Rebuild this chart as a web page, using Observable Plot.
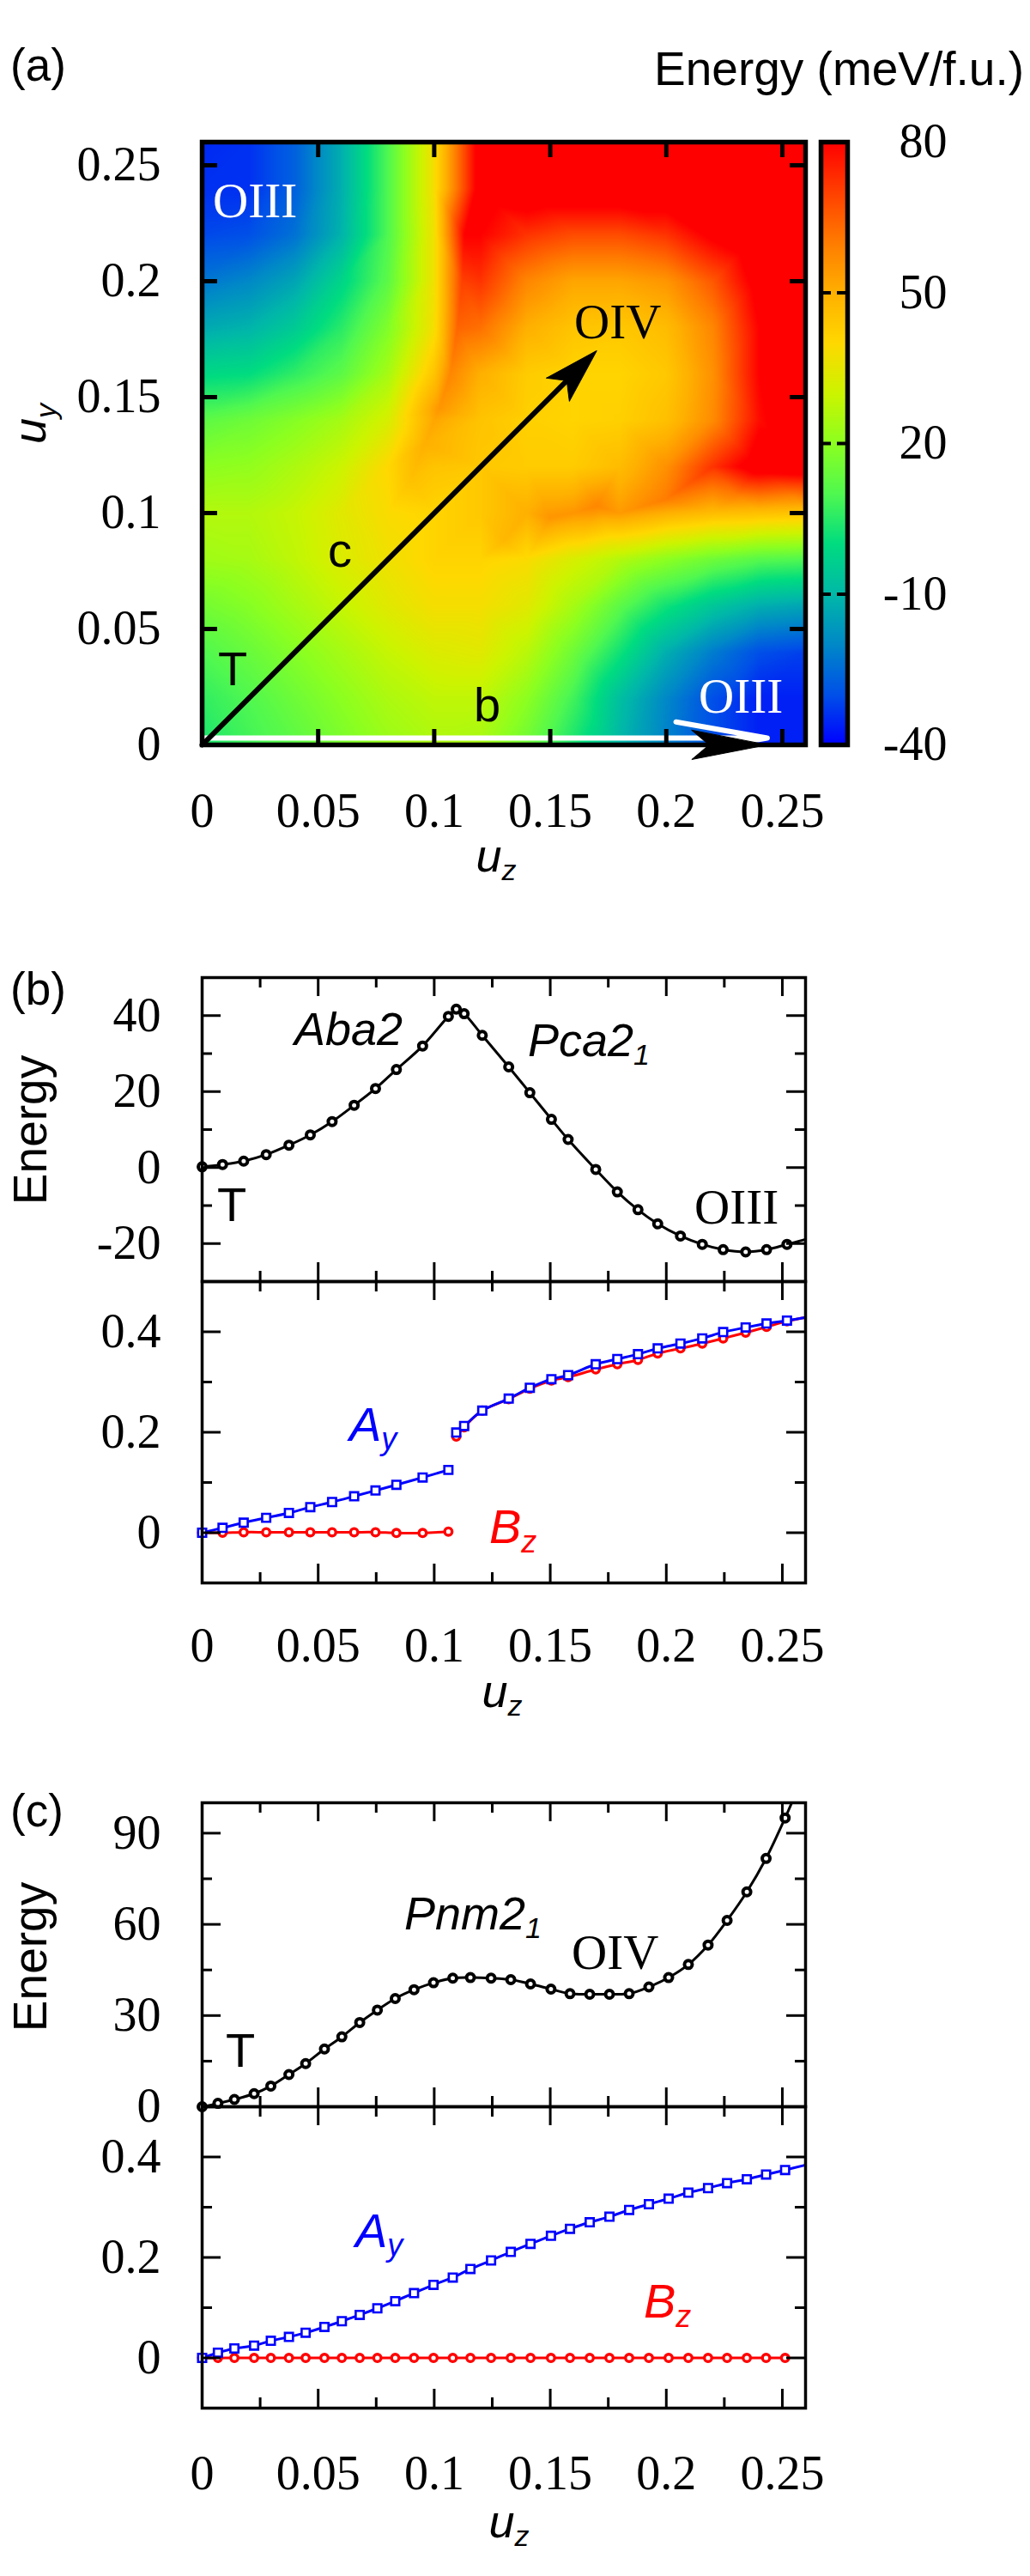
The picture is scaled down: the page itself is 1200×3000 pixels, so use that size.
<!DOCTYPE html>
<html><head><meta charset="utf-8">
<script src="https://cdn.jsdelivr.net/npm/d3@7"></script>
<script src="https://cdn.jsdelivr.net/npm/@observablehq/plot@0.6"></script>
<style>
body{margin:0;background:#fff;}
#wrap{position:relative;width:1200px;height:3000px;background:#fff;overflow:hidden;}
svg.serifplot text{font-family:"Liberation Serif","Times New Roman",serif !important;font-size:56px !important;}
</style></head><body><div id="wrap"></div>
<script>
// ---------------- DATA ----------------
// (a) energy map, grid (meV/f.u.)
const uzGrid = [0, 0.02, 0.04, 0.06, 0.08, 0.10, 0.12, 0.14, 0.16, 0.18, 0.20, 0.22, 0.24, 0.26];
const uyGrid = [0, 0.02, 0.04, 0.06, 0.08, 0.10, 0.12, 0.14, 0.16, 0.18, 0.20, 0.22, 0.24, 0.26];
const heatE = [
  [3, 8, 12, 17, 22, 25, 24, 15, 3, -10, -21, -30, -36, -36],
  [6, 10, 15, 20, 25, 28, 28, 20, 8, -8, -20, -30, -36, -36],
  [10, 14, 19, 24, 29, 33, 34, 27, 15, 2, -12, -22, -30, -32],
  [16, 19, 24, 29, 34, 38, 38, 34, 24, 12, 2, -6, -12, -14],
  [23, 24, 28, 33, 37, 41, 41, 39, 32, 26, 20, 15, 11, 10],
  [26, 26, 29, 34, 39, 41, 44, 50, 55, 54, 50, 47, 46, 45],
  [20, 21, 25, 30, 40, 45, 44, 43, 43, 47, 56, 72, 86, 88],
  [12, 15, 19, 24, 32, 52, 45, 42, 41, 42, 46, 57, 78, 90],
  [-1, 0, 6, 12, 24, 45, 50, 43, 41, 41, 44, 56, 80, 90],
  [-13, -11, -5, 5, 18, 38, 62, 50, 45, 44, 47, 58, 80, 90],
  [-23, -20, -14, -2, 12, 37, 72, 58, 52, 52, 55, 66, 84, 90],
  [-31, -30, -24, -11, 10, 37, 80, 72, 68, 68, 72, 82, 90, 90],
  [-34, -34, -27, -12, 10, 38, 85, 88, 88, 88, 88, 90, 90, 90],
  [-35, -34, -27, -12, 10, 38, 85, 90, 90, 90, 90, 90, 90, 90]
];
// extra samples along the two orange ridges of the map
const ridgeUz = [0.113, 0.112, 0.110, 0.107, 0.102, 0.096, 0.090, 0.255, 0.23, 0.20, 0.17, 0.15, 0.13];
const ridgeUy = [0.22, 0.20, 0.18, 0.16, 0.145, 0.13, 0.115, 0.107, 0.108, 0.106, 0.103, 0.098, 0.088];
const ridgeE  = [80, 70, 64, 58, 55, 50, 46, 58, 60, 60, 58, 55, 48];

const cbStops  = [-40, -30, -20, -10, 0, 10, 20, 30, 40, 50, 60, 70, 80];
const cbColors = ["#0000ff", "#0050e8", "#0088c8", "#00b8a8", "#00dc80", "#50f850", "#8cff20",
                  "#ccf400", "#ffd800", "#ffb000", "#ff7c00", "#ff4000", "#ff0000"];
const cbLabels = [80, 50, 20, -10, -40];
const cbInner  = [50, 20, -10];

const pathC = [{x1: 0, y1: 0, x2: 0.17, y2: 0.17}];
const pathB = [{x1: 0, y1: 0, x2: 0.2435, y2: 0}];

const aTicks  = [0.05, 0.1, 0.15, 0.2, 0.25];
const aLabels = [0, 0.05, 0.1, 0.15, 0.2, 0.25];

// (b) path b
const bUz = [0, 0.0088, 0.0179, 0.0276, 0.0374, 0.0466, 0.056, 0.0655, 0.0747, 0.0837, 0.095, 0.1061,
             0.1095, 0.1129, 0.1207, 0.1321, 0.1412, 0.1505, 0.1577, 0.1696, 0.1789, 0.1878, 0.1963,
             0.2061, 0.2155, 0.2245, 0.2342, 0.2432, 0.2520];
const bEnergy = [0.2, 0.8, 1.7, 3.4, 5.9, 8.6, 12.1, 16.4, 20.8, 25.8, 32.0, 39.8,
                 41.7, 40.5, 34.8, 26.5, 19.7, 12.7, 7.4, -0.5, -6.4, -11.1, -14.8,
                 -18.0, -20.2, -21.6, -22.2, -21.6, -20.2];
const bAy = [0, 0.0097, 0.020, 0.0297, 0.0394, 0.0509, 0.0611, 0.0726, 0.084, 0.0954, 0.110, 0.125,
             0.1994, 0.2126, 0.243, 0.267, 0.2886, 0.3057, 0.3137, 0.3354, 0.3457, 0.3554, 0.3669,
             0.3766, 0.3869, 0.3994, 0.4086, 0.4166, 0.4223];
const bBz = [0, 0, 0.001, 0.001, 0.001, 0.001, 0.001, 0.001, 0.001, -0.0006, -0.0006, 0.0023,
             0.1914, 0.21, 0.243, 0.266, 0.2869, 0.303, 0.3097, 0.3251, 0.3354, 0.344, 0.357,
             0.3669, 0.3766, 0.3869, 0.3983, 0.4097, 0.4211];
const bBranch = [0, 0, 0, 0, 0, 0, 0, 0, 0, 0, 0, 0, 1, 1, 1, 1, 1, 1, 1, 1, 1, 1, 1, 1, 1, 1, 1, 1, 1];
const bEnergyTail = {uz: 0.26, v: -18.9};
const bModeTail = {uz: 0.26, v: 0.4286};

// (c) path c
const cUz = [0, 0.0068, 0.0139, 0.0224, 0.0296, 0.0374, 0.0446, 0.0527, 0.0602, 0.0679, 0.0755,
             0.0832, 0.0913, 0.0997, 0.108, 0.1156, 0.1245, 0.133, 0.1415, 0.1503, 0.1585, 0.167,
             0.1755, 0.184, 0.1925, 0.201, 0.2095, 0.218, 0.2262, 0.2347, 0.243, 0.2512];
const cEnergy = [0, 1.1, 2.4, 4.3, 6.8, 10.6, 14.2, 19.0, 23.0, 27.7, 31.8, 35.6, 38.5, 40.8, 42.3,
                 42.5, 42.3, 41.8, 40.4, 38.7, 37.2, 37.0, 37.0, 37.2, 39.4, 42.5, 46.8, 53.2, 61.3,
                 70.7, 81.7, 95.0];
const cAy = [0, 0.0103, 0.0188, 0.0245, 0.034, 0.0417, 0.0502, 0.0616, 0.0731, 0.0856, 0.0987, 0.113,
             0.129, 0.1455, 0.160, 0.177, 0.194, 0.211, 0.227, 0.243, 0.257, 0.270, 0.281, 0.2945,
             0.306, 0.317, 0.329, 0.338, 0.348, 0.3556, 0.365, 0.374];
const cBz = [0, 0, 0, 0, 0, 0, 0, 0, 0, 0, 0, 0, 0, 0, 0, 0, 0, 0, 0, 0, 0, 0, 0, 0, 0, 0, 0, 0, 0, 0, 0, 0];
const cEnergyTail = {uz: 0.2545, v: 100.8};
const cAyTail = {uz: 0.26, v: 0.384};

const xMajor = [0.05, 0.1, 0.15, 0.2, 0.25];
const xMinor = [0.025, 0.075, 0.125, 0.175, 0.225];
const xLabels = [0, 0.05, 0.1, 0.15, 0.2, 0.25];

// ---------------- LAYOUT ----------------
const wrap = document.getElementById("wrap");
const SANS = "'Liberation Sans', Arial, sans-serif";
const SERIF = "'Liberation Serif', 'Times New Roman', serif";
const plotStyle = {fontFamily: SERIF, fontSize: "56px", background: "transparent", overflow: "visible", color: "black"};
const L = 235, R = 938, FW = R - L;
const colorOpts = {type: "linear", domain: cbStops, range: cbColors, interpolate: "rgb", clamp: true};
const axisText = {fontFamily: SERIF, fontSize: 56, label: null};

function put(node, top, left) {
  node.classList.add("serifplot");
  node.style.position = "absolute";
  node.style.top = top + "px";
  node.style.left = left + "px";
  node.style.maxWidth = "none";
  d3.select(node).selectAll("text").attr("font-family", SERIF).style("font-family", SERIF, "important");
  wrap.appendChild(node);
}
function boxTicks(xs, ys, fw, fh, len, sw) {
  const o = {stroke: "black", strokeWidth: sw};
  return [
    Plot.tickX(xs, {insetBottom: fh - len, ...o}),
    Plot.tickX(xs, {insetTop: fh - len, ...o}),
    Plot.tickY(ys, {insetRight: fw - len, ...o}),
    Plot.tickY(ys, {insetLeft: fw - len, ...o})
  ];
}
function notchedHead(halfWidth, notch) {
  return {draw(ctx, l) {
    ctx.moveTo(0, -l);
    ctx.lineTo(halfWidth, 0);
    ctx.lineTo(0, -l + notch * l);
    ctx.lineTo(-halfWidth, 0);
    ctx.closePath();
  }};
}
const rot = d => Math.atan2(d.x2 - d.x1, d.y2 - d.y1) * 180 / Math.PI;

// ---------------- (a) heat map ----------------
const heatPoints = [];
uyGrid.forEach((uy, j) => uzGrid.forEach((uz, i) => heatPoints.push({uz, uy, E: heatE[j][i]})));
ridgeUz.forEach((uz, k) => heatPoints.push({uz, uy: ridgeUy[k], E: ridgeE[k]}));

const aTop = 165, aBottom = 867, FA = aBottom - aTop;
const heat = Plot.plot({
  width: 1200, height: FA + 20 + 130,
  marginLeft: L, marginRight: 1200 - R, marginTop: 20, marginBottom: 130,
  style: plotStyle,
  x: {domain: [0, 0.26], label: null}, y: {domain: [0, 0.26], label: null},
  color: colorOpts,
  marks: [
    Plot.raster(heatPoints, {x: "uz", y: "uy", fill: "E", interpolate: "barycentric", x1: 0, y1: 0, x2: 0.26, y2: 0.26}),
    Plot.arrow(pathB, {x1: "x1", y1: "y1", x2: "x2", y2: "y2", stroke: "white", strokeWidth: 6,
                       headLength: 27, headAngle: 20, dy: -8, clip: true}),
    ...boxTicks(aTicks, aTicks, FW, FA, 18, 5),
    Plot.frame({stroke: "black", strokeWidth: 5.5}),
    Plot.arrow(pathC, {x1: "x1", y1: "y1", x2: "x2", y2: "y2", stroke: "black", strokeWidth: 6,
                       headLength: 0, insetEnd: 40}),
    Plot.vector(pathC, {x: "x2", y: "y2", rotate: rot, length: 64, anchor: "end",
                        shape: notchedHead(19, 0.77), fill: "black", stroke: "black", strokeWidth: 1}),
    Plot.vector(pathB, {x: "x2", y: "y2", rotate: rot, length: 88, anchor: "end",
                        shape: notchedHead(17, 0.77), fill: "black", stroke: "black", strokeWidth: 1}),
    Plot.axisY(aLabels, {tickSize: 0, tickPadding: 48, tickFormat: d => String(d), ...axisText}),
    Plot.axisX(aLabels, {tickSize: 0, tickPadding: 56, tickFormat: d => String(d), ...axisText})
  ]
});
put(heat, aTop - 20, 0);

// colour bar
const CBW = 31;
const cb = Plot.plot({
  width: CBW + 140, height: FA + 60,
  marginLeft: 0, marginRight: 140, marginTop: 30, marginBottom: 30,
  style: plotStyle,
  x: {domain: [0, 1], axis: null}, y: {domain: [-40, 80], axis: null},
  color: colorOpts,
  marks: [
    Plot.raster({fill: (x, y) => y, x1: 0, x2: 1, y1: -40, y2: 80}),
    Plot.tickY(cbInner, {insetRight: CBW - 12, stroke: "black", strokeWidth: 4}),
    Plot.tickY(cbInner, {insetLeft: CBW - 12, stroke: "black", strokeWidth: 4}),
    Plot.frame({stroke: "black", strokeWidth: 5.5}),
    Plot.text(cbLabels, {y: d => d, text: d => String(d), frameAnchor: "right", dx: 116,
                         textAnchor: "end", lineAnchor: "middle", fontFamily: SERIF, fontSize: 56})
  ]
});
put(cb, aTop - 30, 956);

// ---------------- (b) and (c) ----------------
function subplot({frameTop, frameBottom, yDomain, yMajor, yMinor, labelPad, marks}) {
  const fh = frameBottom - frameTop, mt = 30, mb = labelPad ? 130 : 30;
  const svg = Plot.plot({
    width: 1200, height: fh + mt + mb,
    marginLeft: L, marginRight: 1200 - R, marginTop: mt, marginBottom: mb,
    style: plotStyle,
    x: labelPad ? {domain: [0, 0.26], label: null} : {domain: [0, 0.26], axis: null, label: null},
    y: {domain: yDomain, label: null},
    marks: [
      ...marks,
      ...boxTicks(xMajor, yMajor, FW, fh, 22, 3),
      ...boxTicks(xMinor, yMinor, FW, fh, 12, 3),
      Plot.frame({stroke: "black", strokeWidth: 3.5}),
      Plot.axisY(yMajor, {tickSize: 0, tickPadding: 48, tickFormat: d => String(d), ...axisText}),
      labelPad ? Plot.axisX(xLabels, {tickSize: 0, tickPadding: labelPad, tickFormat: d => String(d), ...axisText}) : null
    ].filter(Boolean)
  });
  put(svg, frameTop - mt, 0);
}
const BLUE = "#0000ff", RED = "#ff0000";
function energyMarks(pts, tail) {
  return [
    Plot.line([...pts, tail], {x: "uz", y: "v", curve: "catmull-rom", stroke: "black", strokeWidth: 3, clip: true}),
    Plot.dot(pts, {x: "uz", y: "v", r: 4.5, stroke: "black", strokeWidth: 4, fill: "white"})
  ];
}
function modeMarks(ayPts, ayLine, bzPts, bzLine) {
  return [
    Plot.line(bzLine, {x: "uz", y: "v", z: "branch", curve: "catmull-rom", stroke: RED, strokeWidth: 3}),
    Plot.dot(bzPts, {x: "uz", y: "v", r: 4.3, stroke: RED, strokeWidth: 3.4, fill: "white"}),
    Plot.line(ayLine, {x: "uz", y: "v", z: "branch", curve: "catmull-rom", stroke: BLUE, strokeWidth: 3}),
    Plot.dot(ayPts, {x: "uz", y: "v", symbol: "square", r: 5.3, stroke: BLUE, strokeWidth: 2.6, fill: "white"})
  ];
}

// (b)
const bE = bUz.map((uz, i) => ({uz, v: bEnergy[i]}));
const bA = bUz.map((uz, i) => ({uz, v: bAy[i], branch: bBranch[i]}));
const bB = bUz.map((uz, i) => ({uz, v: bBz[i], branch: bBranch[i]}));
subplot({frameTop: 1138, frameBottom: 1492, yDomain: [-30, 50], yMajor: [40, 20, 0, -20], yMinor: [30, 10, -10],
         marks: energyMarks(bE, bEnergyTail)});
subplot({frameTop: 1492, frameBottom: 1843, yDomain: [-0.1, 0.5], yMajor: [0.4, 0.2, 0], yMinor: [0.3, 0.1],
         labelPad: 52,
         marks: modeMarks(bA, [...bA, {...bModeTail, branch: 1}], bB, [...bB, {...bModeTail, branch: 1}])});

// (c)
const cE = cUz.map((uz, i) => ({uz, v: cEnergy[i]}));
const cA = cUz.map((uz, i) => ({uz, v: cAy[i], branch: 0}));
const cB = cUz.map((uz, i) => ({uz, v: cBz[i], branch: 0}));
subplot({frameTop: 2099, frameBottom: 2453, yDomain: [0, 100], yMajor: [90, 60, 30, 0], yMinor: [75, 45, 15],
         marks: energyMarks(cE, cEnergyTail)});
subplot({frameTop: 2453, frameBottom: 2804, yDomain: [-0.1, 0.5], yMajor: [0.4, 0.2, 0], yMinor: [0.3, 0.1],
         labelPad: 55,
         marks: modeMarks(cA, [...cA, {...cAyTail, branch: 0}], cB, cB)});

// ---------------- text overlay ----------------
const ov = d3.select(wrap).append("svg").attr("width", 1200).attr("height", 3000)
  .style("position", "absolute").style("left", "0px").style("top", "0px").style("pointer-events", "none");
function label(x, y, segs, o = {}) {
  const t = ov.append("text")
    .attr("transform", `translate(${x},${y})${o.rotate ? ` rotate(${o.rotate})` : ""}`)
    .attr("font-family", o.serif ? SERIF : SANS)
    .attr("font-size", o.size || 56)
    .attr("fill", o.fill || "black")
    .attr("text-anchor", o.anchor || "start");
  if (o.italic) t.attr("font-style", "italic");
  for (const s of segs) {
    const ts = t.append("tspan").text(typeof s === "string" ? s : s.t);
    if (s.size) ts.attr("font-size", s.size);
    if (s.dy) ts.attr("dy", s.dy);
  }
}
// panel letters
label(12, 94, ["(a)"], {size: 53});
label(12, 1170, ["(b)"], {size: 53});
label(12, 2127, ["(c)"], {size: 53});
label(1193, 99, ["Energy (meV/f.u.)"], {size: 55, anchor: "end"});
// axis titles
label(53, 517, ["u", {t: "y", size: 34, dy: 12}], {italic: true, size: 54, rotate: -90});
label(578, 1015, ["u", {t: "z", size: 34, dy: 10}], {italic: true, size: 54, anchor: "middle"});
label(585, 1988, ["u", {t: "z", size: 34, dy: 10}], {italic: true, size: 54, anchor: "middle"});
label(593, 2955, ["u", {t: "z", size: 34, dy: 10}], {italic: true, size: 54, anchor: "middle"});
label(54, 1316, ["Energy"], {size: 55, rotate: -90, anchor: "middle"});
label(54, 2279, ["Energy"], {size: 55, rotate: -90, anchor: "middle"});
// (a) annotations
label(248, 253, ["OIII"], {serif: true, size: 57, fill: "white"});
label(669, 394, ["OIV"], {serif: true, size: 57});
label(254, 798, ["T"], {size: 56});
label(382, 660, ["c"], {size: 56});
label(552, 840, ["b"], {size: 56});
label(814, 830, ["OIII"], {serif: true, size: 57, fill: "white"});
// (b) annotations
label(343, 1217, ["Aba2"], {italic: true, size: 54});
label(615, 1230, ["Pca2", {t: "1", size: 34, dy: 10}], {italic: true, size: 54});
label(253, 1422, ["T"], {size: 56});
label(809, 1425, ["OIII"], {serif: true, size: 57});
label(407, 1678, ["A", {t: "y", size: 36, dy: 10}], {italic: true, size: 56, fill: BLUE});
label(570, 1797, ["B", {t: "z", size: 36, dy: 11}], {italic: true, size: 56, fill: RED});
// (c) annotations
label(471, 2247, ["Pnm2", {t: "1", size: 34, dy: 10}], {italic: true, size: 54});
label(666, 2293, ["OIV"], {serif: true, size: 57});
label(263, 2407, ["T"], {size: 56});
label(414, 2617, ["A", {t: "y", size: 36, dy: 10}], {italic: true, size: 56, fill: BLUE});
label(750, 2699, ["B", {t: "z", size: 36, dy: 11}], {italic: true, size: 56, fill: RED});
</script></body></html>
